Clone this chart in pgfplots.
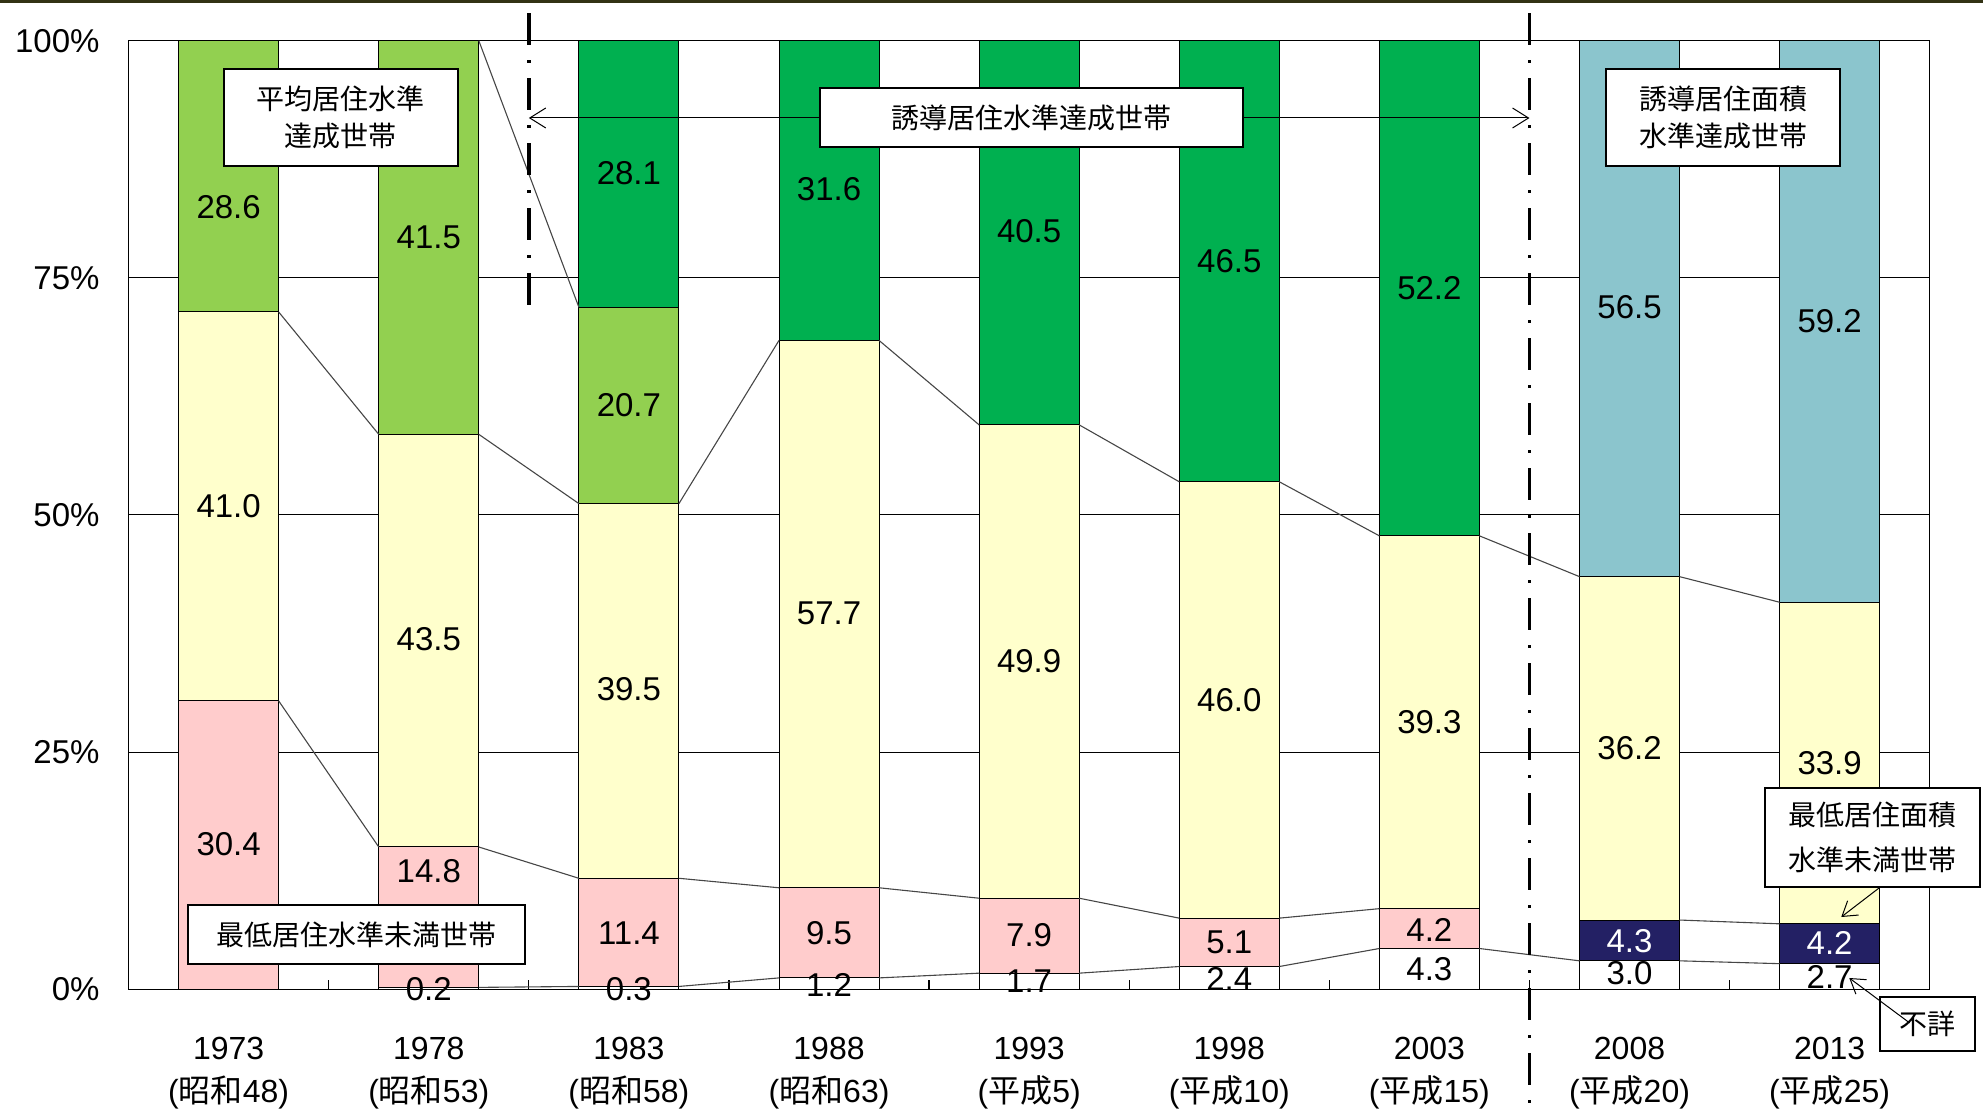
\documentclass[border=0pt]{standalone}
\usepackage{pgfplots}
\usepackage{pgfplotstable}
\pgfplotsset{compat=1.18}
\usetikzlibrary{arrows.meta}
\usepackage{fontspec}
\setmainfont{Liberation Sans}
\newfontfamily\cjk{Noto Sans CJK JP}

\definecolor{cAvg}{RGB}{146,208,80}
\definecolor{cInd}{RGB}{0,176,80}
\definecolor{cIndA}{RGB}{139,197,205}
\definecolor{cMid}{RGB}{255,255,204}
\definecolor{cLow}{RGB}{255,204,204}
\definecolor{cLowA}{RGB}{35,32,100}
\definecolor{cSer}{RGB}{70,70,70}
\definecolor{cTop}{RGB}{50,50,20}

% x  unk  low  lowA  mid  avg  ind  indA
\pgfplotstableread{
x unk low lowA mid avg ind indA
0 0   30.4 0   41.0 28.6 0    0
1 0.2 14.8 0   43.5 41.5 0    0
2 0.3 11.4 0   39.5 20.7 28.1 0
3 1.2 9.5  0   57.7 0    31.6 0
4 1.7 7.9  0   49.9 0    40.5 0
5 2.4 5.1  0   46.0 0    46.5 0
6 4.3 4.2  0   39.3 0    52.2 0
7 3.0 0    4.3 36.2 0    0    56.5
8 2.7 0    4.2 33.9 0    0    59.2
}\data

\pgfplotsset{
  base/.style={
    at={(64.3pt,60.85pt)}, anchor=south west,
    scale only axis, width=900.55pt, height=474.3pt,
    xmin=-0.5, xmax=8.5, ymin=0, ymax=100,
  },
}
\tikzset{
  lab/.style={font=\fontsize{16.5}{19}\selectfont, inner sep=0pt, anchor=center},
  jbox/.style={draw=black, line width=1pt, fill=white, inner sep=0pt, align=center,
    font=\cjk\fontsize{14}{18.5}\selectfont},
}

\begin{document}
\begin{tikzpicture}
\useasboundingbox (0,0) rectangle (991.5pt,555.5pt);
\draw[cTop, line width=1.4pt] (0,554.8pt) -- (991.5pt,554.8pt);

\begin{axis}[base,
  ybar stacked, bar width=0.5,
  xtick={0,...,8},
  xticklabels={
    {1973\\({\cjk 昭和}48)}, {1978\\({\cjk 昭和}53)}, {1983\\({\cjk 昭和}58)},
    {1988\\({\cjk 昭和}63)}, {1993\\({\cjk 平成}5)}, {1998\\({\cjk 平成}10)},
    {2003\\({\cjk 平成}15)}, {2008\\({\cjk 平成}20)}, {2013\\({\cjk 平成}25)}},
  xticklabel style={align=center, font=\fontsize{16}{21.5}\selectfont, yshift=-20.5pt},
  minor xtick={0.5,1.5,...,7.5},
  major tick length=0pt, minor tick length=4.5pt, tick align=inside,
  xtick pos=bottom, ytick pos=left,
  ytick={0,25,50,75,100},
  yticklabels={0\%,25\%,50\%,75\%,100\%},
  yticklabel style={font=\fontsize{16.5}{19}\selectfont, xshift=-11pt},
  ymajorgrids, grid style={black, line width=0.5pt},
  axis line style={black, line width=0.6pt},
  minor tick style={black, line width=0.6pt},
]
\addplot[fill=white, draw=black, line width=0.5pt] table[x=x, y=unk] {\data};
\addplot[fill=cLow, draw=black, line width=0.5pt] table[x=x, y=low] {\data};
\addplot[fill=cLowA, draw=black, line width=0.5pt] table[x=x, y=lowA] {\data};
\addplot[fill=cMid, draw=black, line width=0.5pt] table[x=x, y=mid] {\data};
\addplot[fill=cAvg, draw=black, line width=0.5pt] table[x=x, y=avg] {\data};
\addplot[fill=cInd, draw=black, line width=0.5pt] table[x=x, y=ind] {\data};
\addplot[fill=cIndA, draw=black, line width=0.5pt] table[x=x, y=indA] {\data};
\end{axis}

\begin{axis}[base, axis lines=none, clip=false, unbounded coords=jump]
% series lines between bars (cumulative tops)
\addplot[cSer, line width=0.55pt, mark=none] coordinates {
  (0.25,71.4)(0.75,58.5) (1,nan) (1.25,58.5)(1.75,51.2) (2,nan)
  (2.25,51.2)(2.75,68.4) (3,nan) (3.25,68.4)(3.75,59.5) (4,nan)
  (4.25,59.5)(4.75,53.5) (5,nan) (5.25,53.5)(5.75,47.8) (6,nan)
  (6.25,47.8)(6.75,43.5) (7,nan) (7.25,43.5)(7.75,40.8)};
\addplot[cSer, line width=0.55pt, mark=none] coordinates {
  (0.25,30.4)(0.75,15.0) (1,nan) (1.25,15.0)(1.75,11.7) (2,nan)
  (2.25,11.7)(2.75,10.7) (3,nan) (3.25,10.7)(3.75,9.6) (4,nan)
  (4.25,9.6)(4.75,7.5) (5,nan) (5.25,7.5)(5.75,8.5)};
\addplot[cSer, line width=0.55pt, mark=none] coordinates {
  (1.25,0.2)(1.75,0.3) (2,nan) (2.25,0.3)(2.75,1.2) (3,nan)
  (3.25,1.2)(3.75,1.7) (4,nan) (4.25,1.7)(4.75,2.4) (5,nan)
  (5.25,2.4)(5.75,4.3) (6,nan) (6.25,4.3)(6.75,3.0) (7,nan)
  (7.25,3.0)(7.75,2.7)};
\addplot[cSer, line width=0.55pt, mark=none] coordinates {(7.25,7.3)(7.75,6.9)};
\addplot[cSer, line width=0.55pt, mark=none] coordinates {(1.25,100)(1.75,71.9)};

% dash-dot dividers
\draw[black, line width=1.8pt, dash pattern=on 16pt off 7.5pt on 1.5pt off 7.5pt]
  (axis cs:1.5,102.9) -- (axis cs:1.5,72.1);
\draw[black, line width=1.8pt, dash pattern=on 16pt off 7.5pt on 1.5pt off 7.5pt]
  (axis cs:6.5,102.9) -- (axis cs:6.5,-12.9);
\draw[black, line width=0.5pt, {Straight Barb[length=8pt, width=10pt]}-{Straight Barb[length=8pt, width=10pt]}]
  (axis cs:1.5,91.85) -- (axis cs:6.5,91.85);

% text boxes
\node[jbox, minimum width=117.25pt, minimum height=48.5pt] at (axis cs:0.561,91.9) {平均居住水準\\達成世帯};
\node[jbox, minimum width=211.5pt, minimum height=29.5pt] at (axis cs:4.012,91.9) {誘導居住水準達成世帯};
\node[jbox, minimum width=117pt, minimum height=48.5pt] at (axis cs:7.468,91.9) {誘導居住面積\\水準達成世帯};
\node[jbox, minimum width=168.5pt, minimum height=29.5pt] at (axis cs:0.639,5.78) {最低居住水準未満世帯};
\node[jbox, minimum width=107.5pt, minimum height=49.5pt, font=\cjk\fontsize{14}{22.5}\selectfont] at (axis cs:8.215,16.0) {最低居住面積\\水準未満世帯};
\node[jbox, minimum width=47.5pt, minimum height=27pt] at (axis cs:8.49,-3.66) {不詳};
\draw[black, line width=0.5pt, -{Straight Barb[length=7pt, width=9pt]}] (axis cs:8.247,10.68) -- (axis cs:8.058,7.62);
\draw[black, line width=0.5pt, -{Straight Barb[length=7pt, width=9pt]}] (axis cs:8.40,-3.55) -- (axis cs:8.098,1.19);

% value labels
\node[lab] at (axis cs:0,82.5) {28.6};
\node[lab] at (axis cs:0,50.9) {41.0};
\node[lab] at (axis cs:0,15.3) {30.4};
\node[lab] at (axis cs:1,79.3) {41.5};
\node[lab] at (axis cs:1,36.9) {43.5};
\node[lab] at (axis cs:1,12.5) {14.8};
\node[lab] at (axis cs:1,0) {0.2};
\node[lab] at (axis cs:2,86.0) {28.1};
\node[lab] at (axis cs:2,61.6) {20.7};
\node[lab] at (axis cs:2,31.6) {39.5};
\node[lab] at (axis cs:2,5.9) {11.4};
\node[lab] at (axis cs:2,0) {0.3};
\node[lab] at (axis cs:3,84.3) {31.6};
\node[lab] at (axis cs:3,39.6) {57.7};
\node[lab] at (axis cs:3,5.9) {9.5};
\node[lab] at (axis cs:3,0.5) {1.2};
\node[lab] at (axis cs:4,79.9) {40.5};
\node[lab] at (axis cs:4,34.6) {49.9};
\node[lab] at (axis cs:4,5.7) {7.9};
\node[lab] at (axis cs:4,0.9) {1.7};
\node[lab] at (axis cs:5,76.8) {46.5};
\node[lab] at (axis cs:5,30.5) {46.0};
\node[lab] at (axis cs:5,4.9) {5.1};
\node[lab] at (axis cs:5,1.1) {2.4};
\node[lab] at (axis cs:6,73.9) {52.2};
\node[lab] at (axis cs:6,28.2) {39.3};
\node[lab] at (axis cs:6,6.3) {4.2};
\node[lab] at (axis cs:6,2.1) {4.3};
\node[lab] at (axis cs:7,71.9) {56.5};
\node[lab] at (axis cs:7,25.4) {36.2};
\node[lab, white] at (axis cs:7,5.1) {4.3};
\node[lab] at (axis cs:7,1.7) {3.0};
\node[lab] at (axis cs:8,70.4) {59.2};
\node[lab] at (axis cs:8,23.8) {33.9};
\node[lab, white] at (axis cs:8,4.9) {4.2};
\node[lab] at (axis cs:8,1.3) {2.7};
\end{axis}
\end{tikzpicture}
\end{document}
